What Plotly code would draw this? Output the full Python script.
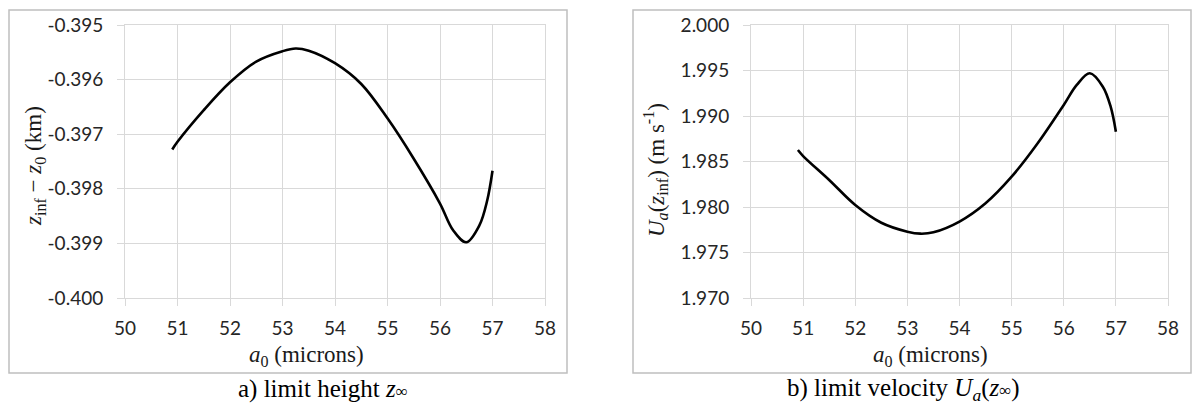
import plotly.graph_objects as go

# the page body keeps an 8px margin, so the figure is drawn 8px smaller
# and every reference pixel position is shifted by OFF
OFF = 8
W, H = 1200 - 2 * OFF, 411 - 2 * OFF

# values
a0 = [50.9, 51.0, 51.5, 52.0, 52.5, 53.0, 53.25, 53.5, 54.0, 54.5,
      55.0, 55.5, 56.0, 56.25, 56.5, 56.75, 56.9, 57.0]
z_height = [-0.39728, -0.39714, -0.39656, -0.39605, -0.39567, -0.39548, -0.39543,
            -0.39547, -0.39570, -0.39608, -0.39671, -0.39745, -0.39827, -0.39876,
            -0.39898, -0.39867, -0.39821, -0.39767]
u_velocity = [1.98626, 1.98560, 1.98297, 1.98022, 1.97827, 1.97729, 1.97707,
              1.97722, 1.97840, 1.98041, 1.98333, 1.98700, 1.99121, 1.99341,
              1.99469, 1.99322, 1.99102, 1.98827]

x_ticks = [50, 51, 52, 53, 54, 55, 56, 57, 58]
z_ticks = [-0.395, -0.396, -0.397, -0.398, -0.399, -0.400]
u_ticks = [2.000, 1.995, 1.990, 1.985, 1.980, 1.975, 1.970]


def px(x):
    return (x - OFF) / W


def py(y):
    return 1 - (y - OFF) / H


fig = go.Figure()
fig.add_trace(go.Scatter(x=a0, y=z_height, mode='lines', line=dict(color='black', width=2.6, shape='spline'),
                         xaxis='x', yaxis='y', showlegend=False))
fig.add_trace(go.Scatter(x=a0, y=u_velocity, mode='lines', line=dict(color='black', width=2.6, shape='spline'),
                         xaxis='x2', yaxis='y2', showlegend=False))

grid = '#d9d9d9'
tickfont = dict(family='Lato', size=19, color='#262626')
axis_common = dict(showgrid=True, gridcolor=grid, gridwidth=1, showline=True, linecolor=grid,
                   linewidth=1, mirror=True, ticks='outside', ticklen=7, tickcolor=grid,
                   tickfont=tickfont, zeroline=False, fixedrange=True, automargin=False)

fig.update_layout(
    width=W, height=H,
    margin=dict(l=0, r=0, t=0, b=0),
    paper_bgcolor='white', plot_bgcolor='white',
    xaxis=dict(domain=[px(125), px(545)], range=[50, 58], tickvals=x_ticks, anchor='y',
               ticklabelstandoff=6, **axis_common),
    yaxis=dict(domain=[py(298), py(25)], range=[-0.400, -0.395], tickvals=z_ticks,
               ticktext=['%.3f' % v for v in z_ticks], anchor='x', ticklabelstandoff=10, **axis_common),
    xaxis2=dict(domain=[px(751), px(1168)], range=[50, 58], tickvals=x_ticks, anchor='y2',
                ticklabelstandoff=6, **axis_common),
    yaxis2=dict(domain=[py(298), py(25)], range=[1.970, 2.000], tickvals=u_ticks,
                ticktext=['%.3f' % v for v in u_ticks], anchor='x2', ticklabelstandoff=10, **axis_common),
)

# chart area borders
for x0, x1 in [(8, 567), (632, 1191)]:
    fig.add_shape(type='rect', xref='paper', yref='paper', x0=px(x0 + 1), x1=px(x1), y0=py(373), y1=py(9 + 1),
                  line=dict(color='#bfbfbf', width=1.5), layer='below')

serif = dict(family='Liberation Serif', size=23, color='#1a1a1a')
cap = dict(family='Liberation Serif', size=25, color='black')

annotations = [
    # x axis titles
    dict(x=px(306), y=py(356), text='<i>a</i><sub>0</sub> (microns)', font=serif),
    dict(x=px(930), y=py(356), text='<i>a</i><sub>0</sub> (microns)', font=serif),
    # y axis titles
    dict(x=px(35), y=py(166), text='<i>z</i><sub>inf</sub> \u2212 <i>z</i><sub>0</sub> (km)',
         font=serif, textangle=-90),
    dict(x=px(655), y=py(170), text='<i>U<sub>a</sub></i>(<i>z</i><sub>inf</sub>) (m s<sup>-1</sup>)',
         font=serif, textangle=-90),
    # captions
    dict(x=px(323), y=py(389), text="a) limit height <i>z</i><span style='font-size:17px'>\u221e</span>", font=cap),
    dict(x=px(903), y=py(389),
         text="b) limit velocity <i>U<sub>a</sub></i>(<i>z</i><span style='font-size:17px'>\u221e</span>)", font=cap),
]
for a in annotations:
    fig.add_annotation(xref='paper', yref='paper', showarrow=False, xanchor='center', yanchor='middle', **a)

fig.write_html("out.html")
